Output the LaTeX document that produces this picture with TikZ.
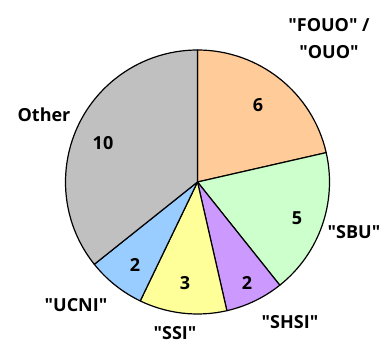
\documentclass[tikz,border=0pt]{standalone}
\usepackage{fontspec}
\setmainfont{Open Sans}[Ligatures=TeXOff]
\definecolor{fouoorange}{HTML}{FFCC99}
\definecolor{sbugreen}{HTML}{CCFFCC}
\definecolor{shsipurple}{HTML}{CC99FF}
\definecolor{ssiyellow}{HTML}{FFFF99}
\definecolor{ucniblue}{HTML}{99CCFF}
\definecolor{othergray}{HTML}{C0C0C0}
\begin{document}
\begin{tikzpicture}
        [
        x = 1pt, y = 1pt,
        font = \fontsize{18}{27}\selectfont\bfseries,
        ]
        \tikzstyle{slice}=[draw=black,line width=1.2pt,line join=round]
        \tikzstyle{count node}=[inner sep=0]
        \tikzstyle{name node}=[inner sep=0,align=center]

        \useasboundingbox (0,0) rectangle (385,346);
        \coordinate (centre) at (197.5,164);

        % slices, clockwise from the top
        \filldraw[slice,fill=fouoorange] (centre) -- ++(90:132) arc (90:12.857:132) -- cycle;
        \filldraw[slice,fill=sbugreen] (centre) -- ++(12.857:132) arc (12.857:-51.429:132) -- cycle;
        \filldraw[slice,fill=shsipurple] (centre) -- ++(-51.429:132) arc (-51.429:-77.143:132) -- cycle;
        \filldraw[slice,fill=ssiyellow] (centre) -- ++(-77.143:132) arc (-77.143:-115.714:132) -- cycle;
        \filldraw[slice,fill=ucniblue] (centre) -- ++(-115.714:132) arc (-115.714:-141.429:132) -- cycle;
        \filldraw[slice,fill=othergray] (centre) -- ++(-141.429:132) arc (-141.429:-270:132) -- cycle;

        % counts
        \node[count node] (n-fouo) at (258,241) {6};
        \node[count node] (n-sbu) at (297,128) {5};
        \node[count node] (n-shsi) at (247,63) {2};
        \node[count node] (n-ssi) at (185,63) {3};
        \node[count node] (n-ucni) at (135,81) {2};
        \node[count node] (n-other) at (103,203) {10};

        % names
        \node[name node] (fouo) at (329,307.5) {"FOUO" /\\"OUO"};
        \node[name node] (sbu) at (354,114) {"SBU"};
        \node[name node] (shsi) at (290,24) {"SHSI"};
        \node[name node] (ssi) at (175,13) {"SSI"};
        \node[name node] (ucni) at (76,41) {"UCNI"};
        \node[name node] (other) at (44,231) {Other};
    \end{tikzpicture}
\end{document}
